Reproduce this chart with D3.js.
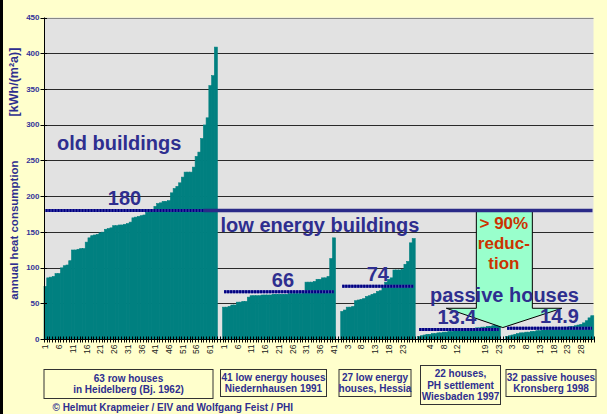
<!DOCTYPE html>
<html>
<head>
<meta charset="utf-8">
<script src="https://cdn.jsdelivr.net/npm/d3@7/dist/d3.min.js"></script>
<style>
	html, body { margin: 0; padding: 0; background: #ffffcc; }
	svg { display: block; font-family: "Liberation Sans", Arial, sans-serif; }
</style>
</head>
<body>
<script>
// annual heat consumption per house, kWh/(m²a), sorted within each settlement
const heidelberg = [74, 86, 87, 88, 92, 92, 100, 103, 104, 110,
	125, 125, 126, 127, 127, 136, 142, 145, 146, 147,
	149, 150, 154, 155, 156, 159, 159, 160, 160, 161,
	162, 164, 170, 171, 172, 173, 174, 178, 179, 181,
	186, 190, 191, 193, 193, 194, 205, 211, 214, 219,
	227, 234, 234, 234, 241, 256, 262, 281, 300, 310,
	355, 369, 409];
const niedernhausen = [45, 45, 46, 48, 48, 52, 52, 53, 53, 59,
	61, 61, 61, 61, 62, 62, 62, 62, 63, 63,
	63, 63, 63, 63, 64, 64, 64, 64, 64, 65,
	80, 80, 80, 81, 84, 84, 86, 86, 88, 113, 142];
const hessia = [39, 41, 45, 45, 46, 54, 55, 56, 57, 60,
	61, 63, 64, 67, 68, 74, 80, 84, 86, 97,
	97, 97, 98, 105, 109, 135, 141];
const wiesbaden = [4, 5, 6, 7, 7, 8, 8, 9, 9, 10,
	10, 11, 11, 12, 12, 13, 13, 14, 14, 15,
	15, 16, 16, 17, 17, 18, 18, 19, 20, 21];
const kronsberg = [4, 5, 6, 7, 8, 9, 9, 10, 10, 11,
	11, 12, 12, 13, 13, 14, 14, 15, 15, 16,
	16, 17, 17, 18, 18, 19, 20, 21, 23, 26, 30, 33];

const groupMeans = [180, 66, 74, 13.4, 14.9];
const meanLabels = ['180', '66', '74', '13.4', '14.9'];
const blanksBefore = [0, 2, 2, 1, 2];

const xTickLabels = ['1', '6', '11', '16', '21', '26', '31', '36', '41', '46', '51', '56', '61',
	'1', '6', '11', '16', '21', '26', '31', '36', '41',
	'3', '8', '13', '18', '23', '',
	'4', '8', '12', '', '19', '23',
	'3', '8', '13', '18', '23', '28'];
const yTicks = [0, 50, 100, 150, 200, 250, 300, 350, 400, 450];

const classLabels = ['old buildings', 'low energy buildings', 'passive houses'];
const reductionText = ['> 90%', 'reduc-', 'tion'];
const boxTexts = [
	['63 row houses', 'in Heidelberg (Bj. 1962)'],
	['41 low energy houses', 'Niedernhausen 1991'],
	['27 low energy', 'houses, Hessia'],
	['22 houses,', 'PH settlement', 'Wiesbaden 1997'],
	['32 passive houses', 'Kronsberg 1998']
];

// layout
const W = 607, H = 414;
const plot = {left: 44, right: 593.5, top: 17.5, bottom: 339};
const navy = '#2e2e8f';
const boxLayout = [
	{x: 44, y: 369.5, w: 169, h: 29},
	{x: 220.5, y: 369.5, w: 106, h: 27},
	{x: 339, y: 369.5, w: 72, h: 27},
	{x: 420.5, y: 365.5, w: 80, h: 39},
	{x: 506, y: 369.5, w: 90, h: 27}
];
const classPos = [{x: 57, y: 150}, {x: 220.5, y: 231.5}, {x: 430, y: 301.5}];
const meanLabelDx = [-6, 4, 0, -2, 10];

function renderChart() {
	let groups = [heidelberg, niedernhausen, hessia, wiesbaden, kronsberg];
	let slots = [];
	let extents = [];
	groups.forEach(function(g, gi) {
		for (let k = 0; k < blanksBefore[gi]; k++) slots.push({v: null, g: -1});
		let first = slots.length;
		g.forEach(function(v) { slots.push({v: v, g: gi}); });
		extents.push({first: first, last: slots.length - 1});
	});

	let svg = d3.select('body').append('svg')
		.attr('width', W)
		.attr('height', H);

	// black strip on left edge of the slide
	svg.append('rect').attr('x', 0).attr('y', 0).attr('width', 3).attr('height', H).attr('fill', '#000');

	let x = d3.scaleBand()
		.domain(d3.range(slots.length))
		.range([plot.left, plot.right])
		.padding(0);
	let y = d3.scaleLinear()
		.domain([0, 450])
		.range([plot.bottom, plot.top]);
	let bw = x.bandwidth();

	// plot background
	svg.append('rect')
		.attr('x', plot.left).attr('y', plot.top)
		.attr('width', plot.right - plot.left).attr('height', plot.bottom - plot.top)
		.attr('fill', '#e2e2e2');

	// gridlines
	svg.append('g').selectAll('line')
		.data(yTicks.filter(function(d) { return d > 0; }))
		.join('line')
		.attr('x1', plot.left).attr('x2', plot.right)
		.attr('y1', function(d) { return Math.round(y(d)) + 0.5; })
		.attr('y2', function(d) { return Math.round(y(d)) + 0.5; })
		.attr('stroke', function(d) { return d === 450 ? '#888' : '#2a2a2a'; })
		.attr('stroke-width', 1);

	// bars (gap width 0; thin stroke of same colour hides seams)
	svg.append('g')
		.selectAll('rect')
		.data(slots.map(function(s, i) { return {v: s.v, i: i}; }).filter(function(d) { return d.v !== null; }))
		.join('rect')
		.attr('x', function(d) { return x(d.i); })
		.attr('width', bw + 0.3)
		.attr('y', function(d) { return y(d.v) + 0.3; })
		.attr('height', function(d) { return plot.bottom - y(d.v) - 0.3; })
		.attr('fill', '#008080')
		.attr('stroke', '#008080')
		.attr('stroke-width', 0.6);

	// arrow "> 90% reduction"
	let cx = x(167);
	let arrowTop = y(180), bodyBottom = y(43), tip = y(16);
	let arrowPts = [
		[cx - 26.5, arrowTop], [cx + 29.5, arrowTop], [cx + 29.5, bodyBottom],
		[cx + 59, bodyBottom], [cx, tip], [cx - 56.5, bodyBottom], [cx - 26.5, bodyBottom]
	];
	svg.append('polygon')
		.attr('points', arrowPts.map(function(p) { return p.join(','); }).join(' '))
		.attr('fill', '#99ffcc')
		.attr('stroke', '#000')
		.attr('stroke-width', 1);
	svg.append('g').selectAll('text')
		.data(reductionText)
		.join('text')
		.attr('x', cx + 1)
		.attr('y', function(d, i) { return 228.5 + i * 20; })
		.attr('text-anchor', 'middle')
		.attr('font-size', 17)
		.attr('font-weight', 'bold')
		.attr('fill', '#cc3300')
		.text(function(d) { return d; });

	// long reference line at 180
	svg.append('line')
		.attr('x1', x(58)).attr('x2', plot.right - 1)
		.attr('y1', y(180)).attr('y2', y(180))
		.attr('stroke', '#2a2a88')
		.attr('stroke-width', 3.5);

	// group mean lines (dotted look)
	let meanG = svg.append('g');
	groupMeans.forEach(function(m, gi) {
		let x1 = x(extents[gi].first) + 1.5;
		let x2 = x(extents[gi].last) + bw - 1.5;
		if (gi === 0) x2 = x(58);
		meanG.append('line')
			.attr('x1', x1).attr('x2', x2).attr('y1', y(m)).attr('y2', y(m))
			.attr('stroke', '#5050b0').attr('stroke-width', 3);
		meanG.append('line')
			.attr('x1', x1).attr('x2', x2).attr('y1', y(m)).attr('y2', y(m))
			.attr('stroke', '#000080').attr('stroke-width', 3)
			.attr('stroke-dasharray', '2,1');
		let gx = (x(extents[gi].first) + x(extents[gi].last) + bw) / 2;
		meanG.append('text')
			.attr('x', gx + meanLabelDx[gi])
			.attr('y', y(m) - 5)
			.attr('text-anchor', 'middle')
			.attr('font-size', 20)
			.attr('font-weight', 'bold')
			.attr('fill', navy)
			.text(meanLabels[gi]);
	});

	// class labels
	svg.append('g').selectAll('text')
		.data(classLabels)
		.join('text')
		.attr('x', function(d, i) { return classPos[i].x; })
		.attr('y', function(d, i) { return classPos[i].y; })
		.attr('font-size', 20)
		.attr('font-weight', 'bold')
		.attr('fill', navy)
		.text(function(d) { return d; });

	// y axis
	let yAxis = svg.append('g');
	yAxis.append('line')
		.attr('x1', plot.left + 0.5).attr('x2', plot.left + 0.5)
		.attr('y1', plot.top).attr('y2', plot.bottom)
		.attr('stroke', '#000');
	yAxis.selectAll('.tick')
		.data(yTicks)
		.join('line')
		.attr('x1', plot.left - 3.5).attr('x2', plot.left + 3)
		.attr('y1', function(d) { return Math.round(y(d)) + 0.5; })
		.attr('y2', function(d) { return Math.round(y(d)) + 0.5; })
		.attr('stroke', '#000');
	yAxis.selectAll('text')
		.data(yTicks)
		.join('text')
		.attr('x', plot.left - 4.5)
		.attr('y', function(d) { return y(d); })
		.attr('dy', '0.35em')
		.attr('text-anchor', 'end')
		.attr('font-size', 8)
		.attr('font-weight', 'bold')
		.attr('fill', '#333399')
		.text(function(d) { return d; });

	// y axis title
	[['annual heat consumption', 230, 11.5], ['[kWh/(m²a)]', 82, 12.5]].forEach(function(t) {
		svg.append('text')
			.attr('transform', 'translate(18,' + t[1] + ') rotate(-90)')
			.attr('text-anchor', 'middle')
			.attr('font-size', t[2])
			.attr('font-weight', 'bold')
			.attr('fill', navy)
			.text(t[0]);
	});

	// x axis
	let xAxis = svg.append('g');
	xAxis.append('line')
		.attr('x1', plot.left).attr('x2', plot.right)
		.attr('y1', plot.bottom + 0.5).attr('y2', plot.bottom + 0.5)
		.attr('stroke', '#000');
	xAxis.selectAll('.tick')
		.data(d3.range(slots.length + 1))
		.join('line')
		.attr('x1', function(d) { return Math.round(plot.left + d * bw) + 0.5; })
		.attr('x2', function(d) { return Math.round(plot.left + d * bw) + 0.5; })
		.attr('y1', plot.bottom - 2.5).attr('y2', plot.bottom + 3.5)
		.attr('stroke', '#000')
		.attr('stroke-width', 1);
	xAxis.selectAll('text')
		.data(xTickLabels)
		.join('text')
		.attr('transform', function(d, i) {
			return 'translate(' + (x(i * 5) + bw / 2 + 3) + ',' + (plot.bottom + 5.5) + ') rotate(-90)';
		})
		.attr('text-anchor', 'end')
		.attr('font-size', 8.5)
		.attr('fill', '#222')
		.text(function(d) { return d; });

	// boxes under the groups
	let boxes = svg.append('g');
	boxTexts.forEach(function(lines, bi) {
		let b = boxLayout[bi];
		boxes.append('rect')
			.attr('x', b.x).attr('y', b.y).attr('width', b.w).attr('height', b.h)
			.attr('fill', '#ffffcc').attr('stroke', '#333').attr('stroke-width', 1);
		let lh = 11.8;
		let startY = b.y + b.h / 2 - (lines.length - 1) * lh / 2 + 3.5;
		lines.forEach(function(line, li) {
			boxes.append('text')
				.attr('x', b.x + b.w / 2)
				.attr('y', startY + li * lh)
				.attr('text-anchor', 'middle')
				.attr('font-size', 10)
				.attr('font-weight', 'bold')
				.attr('fill', navy)
				.text(line);
		});
	});

	svg.append('text')
		.attr('x', 52.5).attr('y', 411)
		.attr('font-size', 10)
		.attr('font-weight', 'bold')
		.attr('fill', navy)
		.text('© Helmut Krapmeier / EIV and Wolfgang Feist / PHI');
}
renderChart();
</script>
</body>
</html>
